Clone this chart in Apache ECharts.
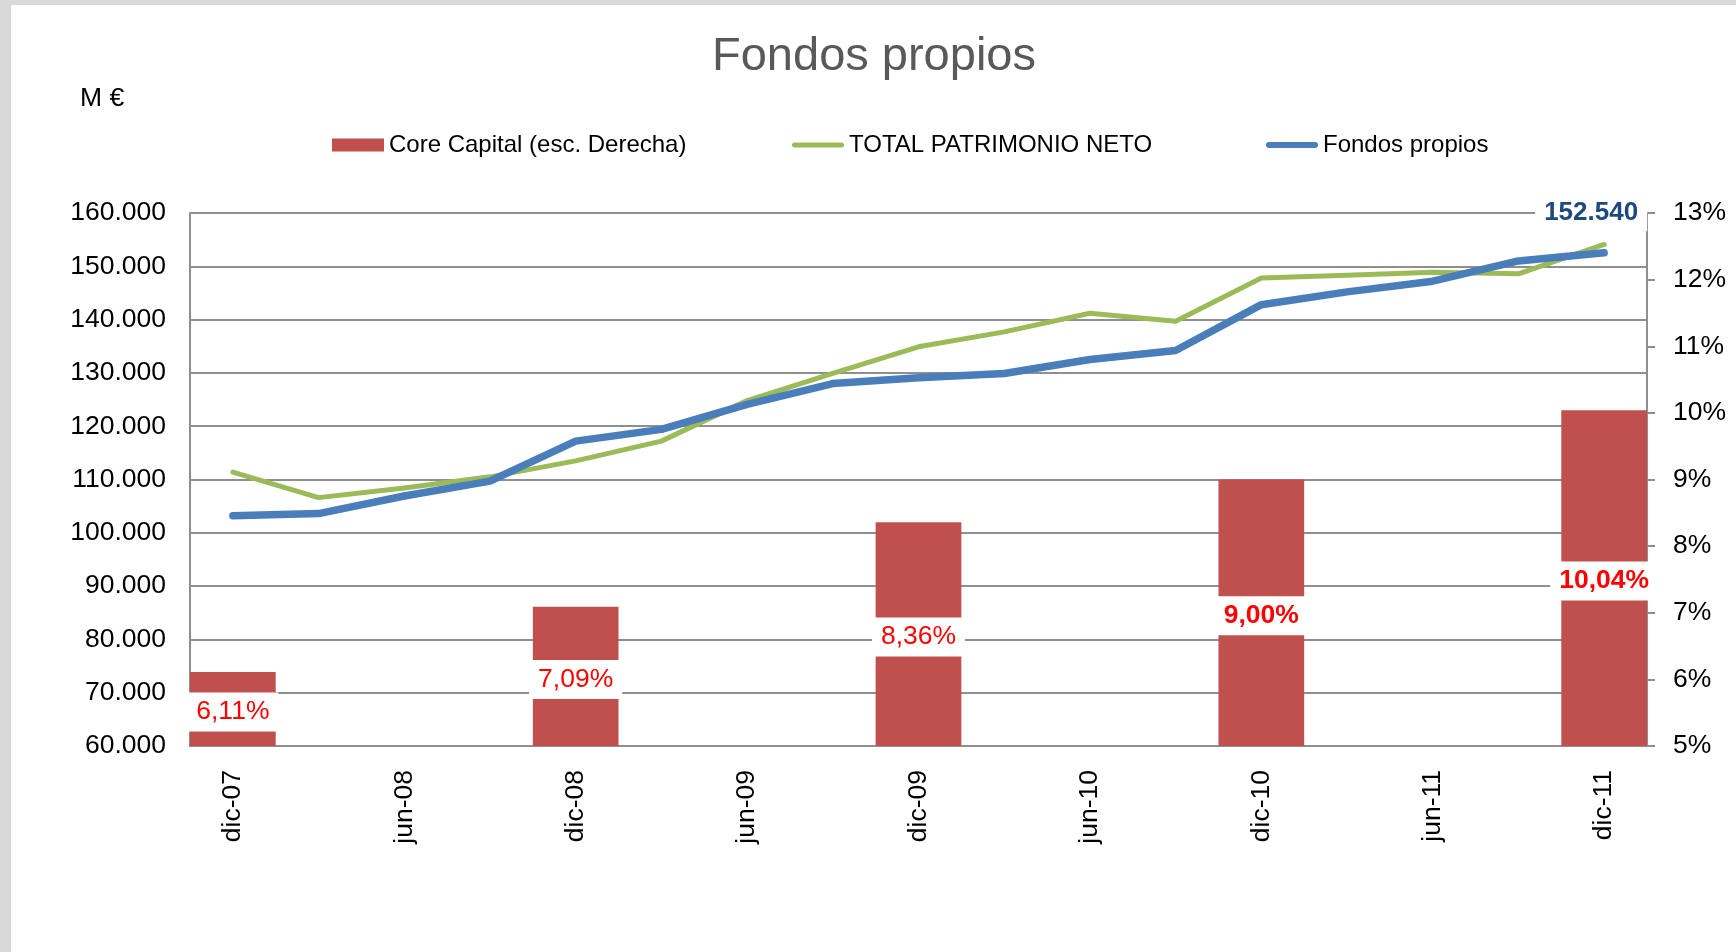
<!DOCTYPE html>
<html>
<head>
<meta charset="utf-8">
<script src="https://cdn.jsdelivr.net/npm/echarts@6/dist/echarts.min.js"></script>
<style>
  html, body { margin: 0; padding: 0; background: #fff; }
  #main { width: 1736px; height: 952px; }
</style>
</head>
<body>
<div id="main"></div>
<script>
let categories = ["dic-07", "mar-08", "jun-08", "sep-08", "dic-08", "mar-09", "jun-09", "sep-09",
  "dic-09", "mar-10", "jun-10", "sep-10", "dic-10", "mar-11", "jun-11", "sep-11", "dic-11"];

// Core Capital (%), solo a cierre de año
let coreCapital = [6.11, null, null, null, 7.09, null, null, null, 8.36, null, null, null, 9.0, null, null, null, 10.04];

let patrimonioNeto = [111400, 106600, 108400, 110500, 113500, 117200, 124800, 129900, 134900,
  137700, 141200, 139700, 147800, 148300, 148900, 148600, 154100];

let fondosPropios = [103200, 103600, 106900, 109700, 117200, 119400, 124100, 128000, 129100,
  129900, 132500, 134200, 142800, 145200, 147200, 151000, 152540];

let leftMin = 60000, leftMax = 160000, leftStep = 10000;
let rightMin = 5, rightMax = 13, rightStep = 1;

const FONT = "'Liberation Sans', Arial, sans-serif";
const GRAY = "#8f8f8f";

let miles = (v) => String(Math.round(v)).replace(/\B(?=(\d{3})+(?!\d))/g, ".");

let myChart = document.getElementById("main");
let initChart = echarts.init(myChart, null, { renderer: "canvas" });

let last = fondosPropios.length - 1;

// leyenda: una por serie para colocar cada una como en el original
let legendBase = {
  top: 133,
  padding: 0,
  itemWidth: 52,
  itemHeight: 13,
  textStyle: { fontFamily: FONT, fontSize: 24, color: "#000" },
};

let option = {
  backgroundColor: "#fff",
  animation: false,
  textStyle: { fontFamily: FONT },

  title: {
    text: "Fondos propios",
    left: 712,
    top: 34,
    padding: 0,
    textStyle: { fontFamily: FONT, fontSize: 47, fontWeight: "normal", color: "#595959" },
  },

  graphic: [
    // marco gris de la captura
    { type: "rect", left: 0, top: 0, shape: { width: 1736, height: 5 }, style: { fill: "#d9d9d9" } },
    { type: "rect", left: 0, top: 0, shape: { width: 11, height: 952 }, style: { fill: "#d9d9d9" } },
    {
      type: "text",
      left: 80,
      top: 85,
      style: { text: "M €", font: "26.5px " + FONT, fill: "#000" },
    },
  ],

  legend: [
    Object.assign({}, legendBase, {
      left: 332,
      data: [{ name: "Core Capital (esc. Derecha)", icon: "rect" }],
    }),
    Object.assign({}, legendBase, {
      left: 792,
      data: [{ name: "TOTAL PATRIMONIO NETO", icon: "path://M2.5,0 L49.5,0 A2.5,2.5 0 0 1 49.5,5 L2.5,5 A2.5,2.5 0 0 1 2.5,0 Z" }],
    }),
    Object.assign({}, legendBase, {
      left: 1266,
      data: [{ name: "Fondos propios", icon: "path://M3,0 L49,0 A3,3 0 0 1 49,6 L3,6 A3,3 0 0 1 3,0 Z" }],
    }),
  ],

  grid: { left: 190, right: 89, top: 213, bottom: 206, containLabel: false },

  xAxis: {
    type: "category",
    data: categories,
    boundaryGap: true,
    axisLine: { lineStyle: { color: GRAY, width: 2 } },
    axisTick: { show: false },
    axisLabel: {
      interval: 1,
      rotate: 90,
      margin: 24,
      fontFamily: FONT,
      fontSize: 26.5,
      color: "#000",
    },
  },

  yAxis: [
    {
      type: "value",
      min: leftMin,
      max: leftMax,
      interval: leftStep,
      axisLine: { show: true, lineStyle: { color: GRAY, width: 2 } },
      axisTick: { show: false },
      splitLine: { lineStyle: { color: GRAY, width: 2 } },
      axisLabel: { margin: 24, fontFamily: FONT, fontSize: 26.5, color: "#000", formatter: miles },
    },
    {
      type: "value",
      min: rightMin,
      max: rightMax,
      interval: rightStep,
      position: "right",
      axisLine: { show: true, lineStyle: { color: GRAY, width: 2 } },
      axisTick: { show: true, length: 8, lineStyle: { color: GRAY, width: 2 } },
      splitLine: { show: false },
      axisLabel: { margin: 26, fontFamily: FONT, fontSize: 26.5, color: "#000", formatter: "{value}%" },
    },
  ],

  series: [
    {
      name: "Core Capital (esc. Derecha)",
      type: "bar",
      yAxisIndex: 1,
      barWidth: "100%",
      itemStyle: { color: "#C0504D" },
      label: {
        show: true,
        position: "inside",
        offset: [0, 3],
        color: "#FF0000",
        fontFamily: FONT,
        fontSize: 26.5,
        backgroundColor: "#fff",
        padding: [6, 9],
        formatter: (p) => p.value.toFixed(2).replace(".", ",") + "%",
      },
      data: coreCapital.map((v, i) =>
        v == null ? "-" : { value: v, label: { fontWeight: i >= 12 ? "bold" : "normal" } }
      ),
    },
    {
      name: "TOTAL PATRIMONIO NETO",
      type: "line",
      symbol: "none",
      lineStyle: { color: "#9BBB59", width: 5, cap: "round", join: "round" },
      itemStyle: { color: "#9BBB59" },
      data: patrimonioNeto,
    },
    {
      name: "Fondos propios",
      type: "line",
      symbol: "circle",
      symbolSize: 1,
      showAllSymbol: true,
      lineStyle: { color: "#4A7EBB", width: 7.5, cap: "round", join: "round" },
      itemStyle: { color: "#4A7EBB" },
      label: {
        show: false,
        position: "top",
        distance: 21,
        offset: [-13, 0],
        color: "#1F497D",
        fontFamily: FONT,
        fontSize: 26,
        fontWeight: "bold",
        backgroundColor: "#fff",
        padding: [5, 9],
        formatter: (p) => miles(p.value),
      },
      data: fondosPropios.map((v, i) => (i === last ? { value: v, label: { show: true } } : v)),
    },
  ],
};

initChart.setOption(option);
</script>
</body>
</html>
